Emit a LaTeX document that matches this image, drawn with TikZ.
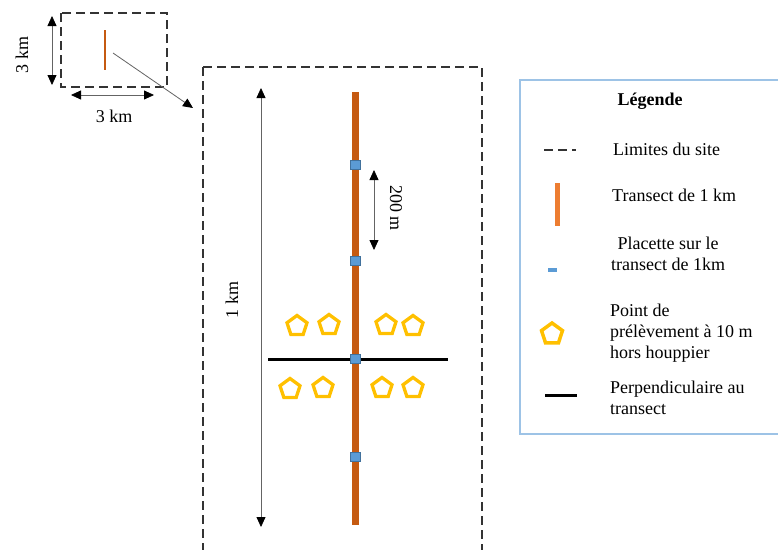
\documentclass[tikz,border=0pt]{standalone}
\usepackage{fontspec}
\setmainfont{Liberation Serif}
\usetikzlibrary{arrows.meta,shapes.geometric}
\definecolor{trans}{RGB}{197,90,17}
\definecolor{legtrans}{RGB}{237,125,49}
\definecolor{placfill}{RGB}{91,155,213}
\definecolor{placdraw}{RGB}{65,113,156}
\definecolor{penta}{RGB}{255,192,0}
\definecolor{legbox}{RGB}{157,195,230}
\definecolor{arrgray}{RGB}{100,100,100}
\tikzset{
  site/.style={draw=black!80, line width=1.5pt, dash pattern=on 9pt off 5pt},
  tip/.tip={Triangle[length=10pt,width=9pt,black]},
  arr/.style={draw=arrgray, line width=0.8pt, arrows={-tip}},
  darr/.style={draw=arrgray, line width=0.8pt, arrows={tip-tip}},
  transline/.style={draw=trans, line width=7pt},
  plac/.style={draw=placdraw, fill=placfill, line width=0.6pt, minimum width=10pt, minimum height=9pt, inner sep=0pt},
  pent/.style={regular polygon, regular polygon sides=5, draw=penta, line width=3.3pt, minimum size=21pt, inner sep=0pt},
  perp/.style={draw=black, line width=3pt},
  lbl/.style={font=\fontsize{18}{21}\selectfont, inner sep=0pt},
  leg/.style={font=\fontsize{18}{21}\selectfont, inner sep=0pt, anchor=west, align=left},
}
\begin{document}
\begin{tikzpicture}[x=1pt,y=-1pt]
\useasboundingbox (0,0) rectangle (778,549);
\clip (0,0) rectangle (778,549);
% small site
\draw[site] (61,13) rectangle (167,87);
\coordinate (sT) at (105,30);
\coordinate (sB) at (105,70);
\draw[draw=trans, line width=2pt] (sT) -- (sB);
\coordinate (v1) at (52,16);
\coordinate (v2) at (52,85);
\draw[darr] (v1) -- (v2);
\node[lbl, rotate=90] (l3v) at (22,55) {3 km};
\coordinate (h1) at (71,95);
\coordinate (h2) at (154,95);
\draw[darr] (h1) -- (h2);
\node[lbl] (l3h) at (114,116) {3 km};
\coordinate (d1) at (113,53);
\coordinate (d2) at (193,108);
\draw[arr] (d1) -- (d2);
% big site
\draw[site] (203,67) -- (482,67) -- (482,570) (203,67) -- (203,570);
\coordinate (k1) at (261,88);
\coordinate (k2) at (261,527);
\draw[darr] (k1) -- (k2);
\node[lbl, rotate=90] (l1k) at (232,300) {1 km};
\coordinate (tT) at (355,92);
\coordinate (tB) at (355,525);
\draw[transline] (tT) -- (tB);
\coordinate (q1) at (268,359);
\coordinate (q2) at (448,359);
\draw[perp] (q1) -- (q2);
\node[plac] (p1) at (355,165) {};
\node[plac] (p2) at (355,261) {};
\node[plac] (p3) at (355,359) {};
\node[plac] (p4) at (355,457) {};
\coordinate (m1) at (374,170);
\coordinate (m2) at (374,250);
\draw[darr] (m1) -- (m2);
\node[lbl, rotate=-90] (l200) at (396,208) {200 m};
\node[pent] (a1) at (297,326) {};
\node[pent] (a2) at (329,325) {};
\node[pent] (a3) at (386,325) {};
\node[pent] (a4) at (413,326) {};
\node[pent] (b1) at (290,389) {};
\node[pent] (b2) at (323,388) {};
\node[pent] (b3) at (382,388) {};
\node[pent] (b4) at (413,388) {};
% legend
\draw[draw=legbox, line width=1.2pt] (790,80) -- (520,80) -- (520,434) -- (790,434);
\node[lbl, font=\fontsize{18}{21}\selectfont\bfseries] (lt) at (650,101) {Légende};
\coordinate (ld1) at (544,150);
\coordinate (ld2) at (576,150);
\draw[site] (ld1) -- (ld2);
\node[leg] (lt1) at (613,149) {Limites du site};
\coordinate (lo1) at (557,183);
\coordinate (lo2) at (557,226);
\draw[draw=legtrans, line width=5pt] (lo1) -- (lo2);
\node[leg] (lt2) at (612,195) {Transect de 1 km};
\node[plac, minimum width=9pt, minimum height=4pt, draw=none] (lp) at (552,270) {};
\node[lbl, align=center] (lt3) at (668,254) {Placette sur le\\transect de 1km};
\node[pent, minimum size=22pt, line width=3.5pt] (lpe) at (552,334) {};
\node[leg] (lt4) at (610,333) {Point de\\prélèvement à 10 m\\hors houppier};
\coordinate (lk1) at (545,395);
\coordinate (lk2) at (577,395);
\draw[perp] (lk1) -- (lk2);
\node[leg] (lt5) at (610,398) {Perpendiculaire au\\transect};
\end{tikzpicture}
\end{document}
